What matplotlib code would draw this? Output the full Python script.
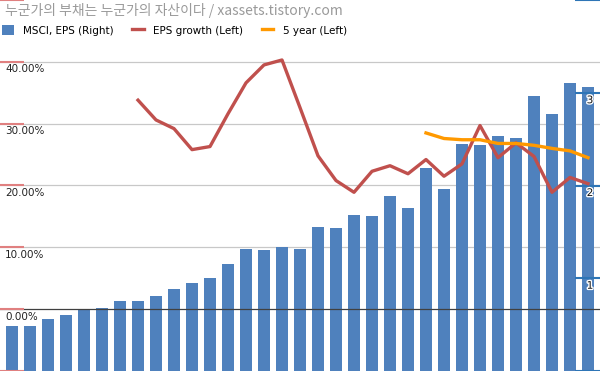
import matplotlib
matplotlib.use("Agg")
import matplotlib.pyplot as plt
import matplotlib.transforms as mtrans
import matplotlib.patheffects as pe
import numpy as np

plt.rcParams['font.family'] = ['DejaVu Sans', 'Noto Sans CJK KR']

title = "누군가의 부채는 누군가의 자산이다 / xassets.tistory.com"
series_names = ["MSCI, EPS (Right)", "EPS growth (Left)", "5 year (Left)"]

msci_eps = [0.48, 0.49, 0.56, 0.60, 0.66, 0.68, 0.76, 0.76, 0.81, 0.88, 0.95,
            1.00, 1.15, 1.31, 1.30, 1.34, 1.31, 1.55, 1.54, 1.68, 1.67, 1.89,
            1.76, 2.19, 1.96, 2.45, 2.44, 2.53, 2.51, 2.97, 2.77, 3.11, 3.06]

eps_growth = [None, None, None, None, None, None, None,
              0.338, 0.306, 0.292, 0.258, 0.263, 0.316, 0.366, 0.395, 0.403,
              0.326, 0.248, 0.208, 0.189, 0.223, 0.232, 0.219, 0.242, 0.215,
              0.235, 0.297, 0.245, 0.269, 0.247, 0.189, 0.213, 0.203]

five_year = [None] * 23 + [0.285, 0.276, 0.274, 0.274, 0.268, 0.268, 0.265,
                           0.260, 0.256, 0.245]

left_ticks = [-0.10, 0.0, 0.10, 0.20, 0.30, 0.40, 0.50]
left_labels = ["", "0.00%", "10.00%", "20.00%", "30.00%", "40.00%", ""]
right_ticks = [0, 1, 2, 3, 4]
right_labels = ["", "1", "2", "3", ""]

n = len(msci_eps)
x = np.arange(n)
eg = np.array([np.nan if v is None else v for v in eps_growth], dtype=float)
fy = np.array([np.nan if v is None else v for v in five_year], dtype=float)

fig = plt.figure(figsize=(6.0, 3.71), dpi=100)
ax = fig.add_axes([0, 0, 1, 1])
ax2 = ax.twinx()

ax.set_xlim(-0.667, n - 1 + 0.667)
ax.set_ylim(-0.10, 0.50)
ax2.set_ylim(0, 4)

# gridlines (left axis values mapped onto right axis so they sit under bars)
for t in left_ticks[1:-1]:
    if t != 0:
        ax2.axhline((t + 0.10) / 0.60 * 4, color='#c8c8c8', lw=0.9, zorder=0.5)

bars = ax2.bar(x, msci_eps, width=0.65, color='#4f81bd', zorder=1,
               label=series_names[0])
ax2.axhline(0.10 / 0.60 * 4, color='#404040', lw=0.9, zorder=1.5)

ax.set_zorder(ax2.get_zorder() + 1)
ax.patch.set_visible(False)
ln1, = ax.plot(x, eg, color='#c0504d', lw=2.4, label=series_names[1], zorder=3)
ln2, = ax.plot(x, fy, color='#ff9900', lw=2.4, label=series_names[2], zorder=3)

for a in (ax, ax2):
    for s in a.spines.values():
        s.set_visible(False)

ax.set_yticks(left_ticks)
ax.set_yticklabels([])
ax.tick_params(axis='y', direction='in', length=17, width=1.5,
               color='#e08080', left=True, right=False, labelleft=False)
ax.set_xticks([])
ax2.set_yticks(right_ticks)
ax2.set_yticklabels([])
ax2.tick_params(axis='y', direction='in', length=18, width=1.5,
                color='#2e75b6', right=True, left=False, labelright=False)

trl = mtrans.blended_transform_factory(fig.transFigure, ax.transData)
for t, lab in zip(left_ticks, left_labels):
    if lab:
        ax.text(5 / 600, t - 0.004, lab, transform=trl, fontsize=7.5,
                va='top', ha='left', color='#222222')

for t, lab in zip(right_ticks, right_labels):
    if lab:
        yl = t / 4 * 0.60 - 0.10
        ax.text(590 / 600, yl - 0.004, lab, transform=trl, fontsize=7.5,
                va='top', ha='center', color='#111111', zorder=6,
                path_effects=[pe.withStroke(linewidth=2, foreground='white')])

fig.text(5 / 600, 1 - 11 / 371, title, fontsize=10, color='#9a9a9a',
         va='center', ha='left', family=['Noto Sans CJK KR', 'DejaVu Sans'])

leg = fig.legend([bars, ln1, ln2], series_names, loc='upper left',
                 bbox_to_anchor=(0.0, 1 - 23 / 371), ncol=3, frameon=False,
                 fontsize=7.5, handlelength=1.1, handleheight=1.1,
                 handletextpad=0.9, columnspacing=1.8, borderaxespad=0.0,
                 borderpad=0.2)

fig.savefig("out.png", dpi=100)
